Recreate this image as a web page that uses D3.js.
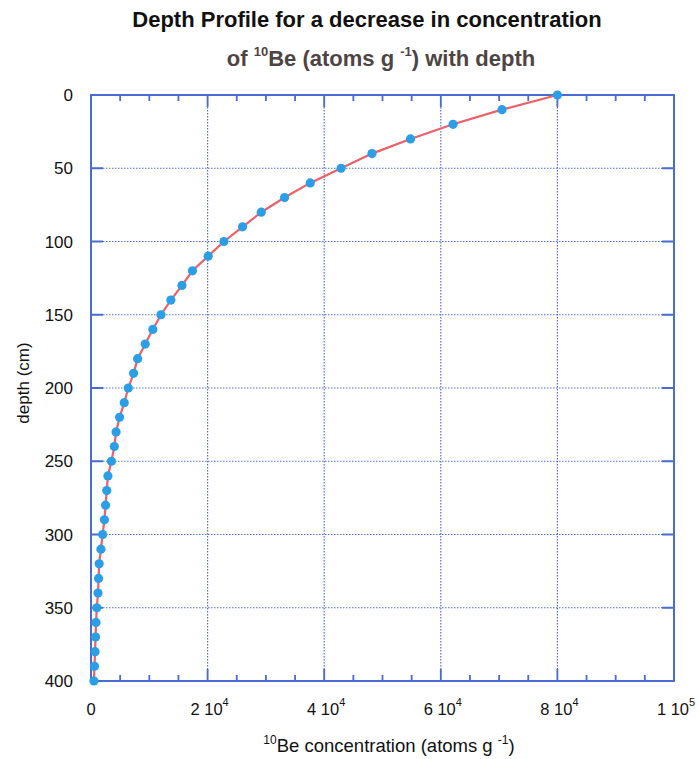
<!DOCTYPE html>
<html>
<head>
<meta charset="utf-8">
<script src="https://cdn.jsdelivr.net/npm/d3@7"></script>
<style>
    body { margin: 0; background: #ffffff; }
    svg { display: block; font-family: "Liberation Sans", Arial, sans-serif; }
</style>
</head>
<body>
<div id="chart"></div>
<script>
// depth (cm) and 10Be concentration (atoms/g)
const depths = [0, 10, 20, 30, 40, 50, 60, 70, 80, 90, 100, 110, 120, 130, 140, 150, 160, 170, 180, 190,
    200, 210, 220, 230, 240, 250, 260, 270, 280, 290, 300, 310, 320, 330, 340, 350, 360, 370, 380, 390, 400];
const concentration = [80000, 70500, 62100, 54800, 48200, 42900, 37600, 33200, 29200, 26000, 22800, 20100,
    17400, 15600, 13700, 12000, 10600, 9300, 8000, 7300, 6400, 5700, 4900, 4300, 4000, 3500, 2900, 2700,
    2500, 2300, 2000, 1700, 1400, 1300, 1200, 1000, 860, 780, 700, 600, 500];

const xMajorTicks = [0, 20000, 40000, 60000, 80000, 100000];
const xTickMantissa = ["0", "2 10", "4 10", "6 10", "8 10", "1 10"];
const xTickExponent = ["", "4", "4", "4", "4", "5"];
const yMajorTicks = [0, 50, 100, 150, 200, 250, 300, 350, 400];

const width = 699, height = 759;
const plotLeft = 91, plotRight = 674, plotTop = 95, plotBottom = 681;
const frameColor = "#4a6bd0";
const gridColor = "#4f6fd6";

const svg = d3.select("#chart").append("svg")
    .attr("width", width)
    .attr("height", height);

const x = d3.scaleLinear().domain([0, 100000]).range([plotLeft, plotRight]);
const y = d3.scaleLinear().domain([0, 400]).range([plotTop, plotBottom]);

const points = depths.map((d, i) => ({ depth: d, value: concentration[i] }));

// titles
svg.append("text")
    .attr("x", 367).attr("y", 27)
    .attr("text-anchor", "middle")
    .style("font-size", "22px").style("font-weight", "bold")
    .attr("fill", "#111")
    .text("Depth Profile for a decrease in concentration");

const sub = svg.append("text")
    .attr("x", 381).attr("y", 66)
    .attr("text-anchor", "middle")
    .style("font-size", "22px").style("font-weight", "bold")
    .attr("fill", "#4e4444");
sub.append("tspan").text("of ");
sub.append("tspan").attr("dy", -10).style("font-size", "13px").text("10");
sub.append("tspan").attr("dy", 10).text("Be (atoms g ");
sub.append("tspan").attr("dy", -10).style("font-size", "13px").text("-1");
sub.append("tspan").attr("dy", 10).text(") with depth");

// gridlines
const grid = svg.append("g")
    .attr("stroke", gridColor)
    .attr("stroke-width", 1.2)
    .attr("stroke-dasharray", "1.5,1.5");

grid.selectAll(".vgrid")
    .data(xMajorTicks.slice(1, -1))
    .join("line")
    .attr("x1", d => x(d)).attr("x2", d => x(d))
    .attr("y1", plotTop).attr("y2", plotBottom);

grid.selectAll(".hgrid")
    .data(yMajorTicks.slice(1, -1))
    .join("line")
    .attr("x1", plotLeft).attr("x2", plotRight)
    .attr("y1", d => y(d)).attr("y2", d => y(d));

// ticks, drawn inward on all four sides
const xMinorTicks = d3.range(5000, 100000, 5000).filter(v => v % 20000 != 0);
const ticks = svg.append("g")
    .attr("stroke", frameColor)
    .attr("stroke-width", 1.8);

ticks.selectAll(".xminor")
    .data(xMinorTicks)
    .join("path")
    .attr("d", d => "M" + x(d) + "," + plotBottom + "v-6M" + x(d) + "," + plotTop + "v6");

ticks.selectAll(".xmajor")
    .data(xMajorTicks.slice(1, -1))
    .join("path")
    .attr("d", d => "M" + x(d) + "," + plotBottom + "v-12M" + x(d) + "," + plotTop + "v12");

ticks.selectAll(".ymajor")
    .data(yMajorTicks.slice(1, -1))
    .join("path")
    .attr("d", d => "M" + plotLeft + "," + y(d) + "h12M" + plotRight + "," + y(d) + "h-12");

// frame
svg.append("rect")
    .attr("x", plotLeft).attr("y", plotTop)
    .attr("width", plotRight - plotLeft).attr("height", plotBottom - plotTop)
    .attr("fill", "none")
    .attr("stroke", frameColor)
    .attr("stroke-width", 2);

// tick labels
svg.selectAll(".ylabel")
    .data(yMajorTicks)
    .join("text")
    .attr("x", 73).attr("y", d => y(d) + 6)
    .attr("text-anchor", "end")
    .style("font-size", "17px")
    .attr("fill", "#111")
    .text(d => d);

const xLabels = svg.selectAll(".xlabel")
    .data(xMajorTicks)
    .join("text")
    .attr("x", d => x(d) + (d == 0 ? 0 : 2)).attr("y", 715)
    .attr("text-anchor", "middle")
    .style("font-size", "16.5px")
    .attr("fill", "#111");
xLabels.append("tspan").text((d, i) => xTickMantissa[i]);
xLabels.append("tspan")
    .attr("dy", -9)
    .style("font-size", "11px")
    .text((d, i) => xTickExponent[i]);

// axis titles
svg.append("text")
    .attr("transform", "translate(29,383) rotate(-90)")
    .attr("text-anchor", "middle")
    .style("font-size", "17px")
    .attr("fill", "#111")
    .text("depth (cm)");

const xt = svg.append("text")
    .attr("x", 389).attr("y", 752)
    .attr("text-anchor", "middle")
    .style("font-size", "18.5px")
    .attr("fill", "#111");
xt.append("tspan").attr("dy", -8).style("font-size", "12px").text("10");
xt.append("tspan").attr("dy", 8).text("Be concentration (atoms g ");
xt.append("tspan").attr("dy", -8).style("font-size", "12px").text("-1");
xt.append("tspan").attr("dy", 8).text(")");

// profile line and markers
const line = d3.line()
    .x(d => x(d.value))
    .y(d => y(d.depth));

svg.append("path")
    .datum(points)
    .attr("d", line)
    .attr("fill", "none")
    .attr("stroke", "#ec6068")
    .attr("stroke-width", 2.2);

svg.selectAll(".dot")
    .data(points)
    .join("circle")
    .attr("cx", d => x(d.value))
    .attr("cy", d => y(d.depth))
    .attr("r", 4.6)
    .attr("fill", "#2a9ee6");
</script>
</body>
</html>
